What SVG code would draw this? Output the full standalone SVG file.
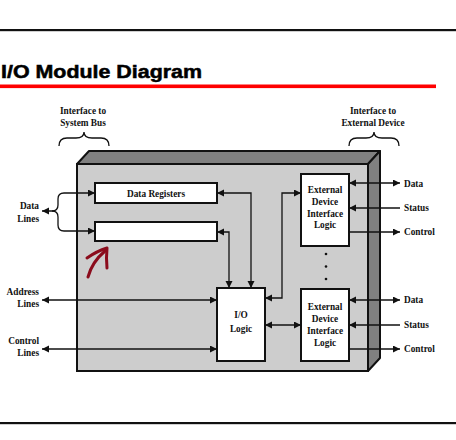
<svg xmlns="http://www.w3.org/2000/svg" width="456" height="440" viewBox="0 0 456 440">
<style>
.t{font-family:"Liberation Serif","Times New Roman",serif;font-weight:bold;font-size:9.3px;fill:#111}
.c{text-anchor:middle}
.e{text-anchor:end}
.box{fill:#fff;stroke:#111;stroke-width:2}
.ln{fill:none;stroke:#111;stroke-width:1.3}
.br{fill:none;stroke:#111;stroke-width:1.3}
</style>
<defs>
<marker id="ah" markerUnits="userSpaceOnUse" markerWidth="8" markerHeight="8" refX="7" refY="3.5" orient="auto-start-reverse">
<path d="M0,0 L7,3.5 L0,7 z" fill="#111"/>
</marker>
</defs>
<rect width="456" height="440" fill="#fff"/>
<rect x="0" y="29" width="456" height="2.2" fill="#111"/>
<rect x="0" y="422" width="456" height="2.2" fill="#111"/>
<text x="1" y="78.3" font-family="Liberation Sans, Arial, sans-serif" font-weight="bold" font-size="18" textLength="201" lengthAdjust="spacingAndGlyphs" fill="#000" stroke="#000" stroke-width="0.5">I/O Module Diagram</text>
<rect x="0" y="84.5" width="436" height="3.6" fill="#f00"/>

<g id="label-system-bus">
<text class="t c" x="83" y="114">Interface to</text>
<text class="t c" x="83" y="125.5">System Bus</text>
<path class="br" d="M59,146 Q59,138 67,138 H76 Q84,138 84,132 Q84,138 92,138 H101 Q109,138 109,146"/>
</g>
<g id="label-external-device">
<text class="t c" x="373" y="114">Interface to</text>
<text class="t c" x="373" y="125.5">External Device</text>
<path class="br" d="M349,146 Q349,138 357,138 H366 Q374,138 374,132 Q374,138 382,138 H391 Q399,138 399,146"/>
</g>

<g id="io-module">
<polygon points="77,164 89,151 380,151 368,164" fill="#808080" stroke="#111" stroke-width="2" stroke-linejoin="round"/>
<polygon points="368,164 380,151 380,358 368,371" fill="#808080" stroke="#111" stroke-width="2" stroke-linejoin="round"/>
<rect x="77" y="164" width="291" height="207" fill="#cdcdcd" stroke="#111" stroke-width="2"/>
</g>

<g id="data-registers">
<rect class="box" x="95" y="183" width="122" height="20"/>
<text class="t c" x="156" y="196.7">Data Registers</text>
</g>
<g id="status-control-registers">
<rect class="box" x="95" y="222" width="122" height="19"/>
</g>
<g id="io-logic">
<rect class="box" x="217" y="288" width="48" height="73"/>
<text class="t c" x="241" y="318">I/O</text>
<text class="t c" x="241" y="332">Logic</text>
</g>
<g id="ext-device-logic-1">
<rect class="box" x="301" y="174" width="48" height="72"/>
<text class="t c" x="325" y="193">External</text>
<text class="t c" x="325" y="205">Device</text>
<text class="t c" x="325" y="216.5">Interface</text>
<text class="t c" x="325" y="228">Logic</text>
</g>
<g id="ext-device-logic-2">
<rect class="box" x="301" y="289" width="48" height="72"/>
<text class="t c" x="325" y="310">External</text>
<text class="t c" x="325" y="322">Device</text>
<text class="t c" x="325" y="334">Interface</text>
<text class="t c" x="325" y="345.5">Logic</text>
</g>
<g id="ellipsis">
<circle cx="326" cy="254" r="1.3" fill="#111"/>
<circle cx="326" cy="266.5" r="1.3" fill="#111"/>
<circle cx="326" cy="279" r="1.3" fill="#111"/>
</g>

<g id="left-labels">
<text class="t e" x="39" y="209">Data</text>
<text class="t e" x="39" y="222">Lines</text>
<text class="t e" x="39" y="295">Address</text>
<text class="t e" x="39" y="307">Lines</text>
<text class="t e" x="39" y="344">Control</text>
<text class="t e" x="39" y="356">Lines</text>
</g>
<g id="right-labels">
<text class="t" x="404" y="187">Data</text>
<text class="t" x="404" y="211">Status</text>
<text class="t" x="404" y="235">Control</text>
<text class="t" x="404" y="303">Data</text>
<text class="t" x="404" y="328">Status</text>
<text class="t" x="404" y="352">Control</text>
</g>

<g id="connectors">
<path class="ln" d="M42,211 H52 Q58,211 58,205 V199 Q58,193 64,193 H95" marker-start="url(#ah)" marker-end="url(#ah)"/>
<path class="ln" d="M52,211 Q58,211 58,217 V225 Q58,231 64,231 H95" marker-end="url(#ah)"/>
<path class="ln" d="M42,300 H217" marker-start="url(#ah)" marker-end="url(#ah)"/>
<path class="ln" d="M42,349 H217" marker-start="url(#ah)" marker-end="url(#ah)"/>
<path class="ln" d="M217,193 H251 V288" marker-start="url(#ah)" marker-end="url(#ah)"/>
<path class="ln" d="M217,232 H229 V288" marker-start="url(#ah)" marker-end="url(#ah)"/>
<path class="ln" d="M265,298 H282 V193 H301" marker-start="url(#ah)" marker-end="url(#ah)"/>
<path class="ln" d="M265,325 H301" marker-start="url(#ah)" marker-end="url(#ah)"/>
<path class="ln" d="M349,183 H400" marker-start="url(#ah)" marker-end="url(#ah)"/>
<path class="ln" d="M400,208 H349" marker-end="url(#ah)"/>
<path class="ln" d="M349,232 H400" marker-end="url(#ah)"/>
<path class="ln" d="M349,300 H400" marker-start="url(#ah)" marker-end="url(#ah)"/>
<path class="ln" d="M400,325 H349" marker-end="url(#ah)"/>
<path class="ln" d="M349,349 H400" marker-end="url(#ah)"/>
</g>

<g id="annotation" fill="none" stroke="#8b0c1c" stroke-width="3" stroke-linecap="round" stroke-linejoin="round">
<path d="M88,277 Q92,262 105,251"/>
<path d="M87,258 Q97,251 107,248 Q106,258 107,268"/>
</g>
</svg>
